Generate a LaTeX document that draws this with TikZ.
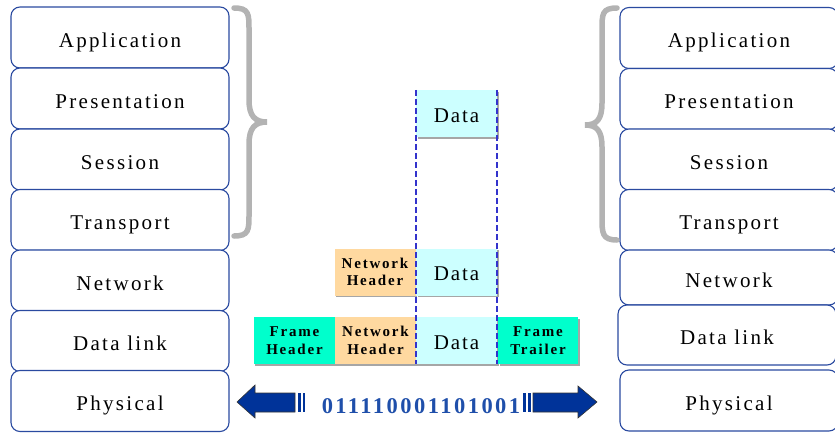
\documentclass[tikz,border=0pt]{standalone}
\usepackage{fontspec}
\usetikzlibrary{shadows}
\setmainfont{Liberation Serif}
\newfontfamily\layerfont[LetterSpace=11]{Liberation Serif}
\newfontfamily\datafont[LetterSpace=9]{Liberation Serif}
\newfontfamily\hdrfont[LetterSpace=12]{Liberation Serif}
\newfontfamily\bitfont[LetterSpace=11]{Liberation Serif}
\definecolor{layerline}{HTML}{2A4AA0}
\definecolor{datafill}{HTML}{CCFFFF}
\definecolor{netfill}{HTML}{FFD9A0}
\definecolor{framefill}{HTML}{00FFCC}
\definecolor{dashblue}{HTML}{3333CC}
\definecolor{bitblue}{HTML}{1F4FAA}
\definecolor{arrowblue}{HTML}{003399}
\definecolor{bracegray}{HTML}{B3B3B3}
\begin{document}
\begin{tikzpicture}[x=1pt,y=-1pt,
  layer/.style={draw=layerline,line width=1.1pt,rounded corners=9pt,fill=white,
    minimum width=218pt,minimum height=61pt,inner sep=0pt,
    text height=19pt,text depth=0pt,
    font=\layerfont\fontsize{21}{24}\selectfont},
  cell/.style={minimum width=81pt,minimum height=47pt,inner sep=0pt,
    drop shadow={shadow xshift=1.5pt,shadow yshift=-1.5pt,fill=black!35,opacity=1}},
  datacell/.style={cell,fill=datafill,text height=17pt,text depth=0pt,
    font=\datafont\fontsize{21}{24}\selectfont},
  netcell/.style={cell,fill=netfill,align=center,
    font=\hdrfont\bfseries\fontsize{15}{17.5}\selectfont},
  framecell/.style={netcell,fill=framefill},
  brace/.style={draw=bracegray,line width=5.5pt,line cap=round},
  seq/.style={draw=dashblue,line width=1.8pt,dash pattern=on 6pt off 3pt},
  blockarrow/.style={fill=arrowblue,draw=black!80,line width=0.6pt}]
\useasboundingbox (0,0) rectangle (835,434);

% sender stack
\node[layer] (lapp) at (120,37.5) {Application};
\node[layer] (lpre) at (120,98.5) {Presentation};
\node[layer] (lses) at (120,159.5) {Session};
\node[layer] (ltra) at (120,220) {Transport};
\node[layer] (lnet) at (120,280.5) {Network};
\node[layer] (ldl)  at (120,341) {Data link};
\node[layer] (lphy) at (120,401) {Physical};

% receiver stack
\node[layer] (rapp) at (729,38) {Application};
\node[layer] (rpre) at (729,99) {Presentation};
\node[layer] (rses) at (729,159.5) {Session};
\node[layer] (rtra) at (729,220) {Transport};
\node[layer,minimum height=55pt] (rnet) at (729,277.5) {Network};
\node[layer,minimum height=60pt] (rdl)  at (727,335) {Data link};
\node[layer] (rphy) at (729,400.5) {Physical};

% upper-layer braces
\draw[brace] (234,8) .. controls (249,8) and (249,14) .. (249,30)
  -- (249,100) .. controls (249,116) and (255,122) .. (267,122)
  .. controls (255,122) and (249,128) .. (249,144)
  -- (249,214) .. controls (249,230) and (249,236) .. (234,236);
\draw[brace] (617,8) .. controls (602,8) and (602,14) .. (602,30)
  -- (602,103) .. controls (602,119) and (597,125) .. (585,125)
  .. controls (597,125) and (602,131) .. (602,147)
  -- (602,217) .. controls (602,233) and (602,240) .. (617,240);

% encapsulated units
\node[datacell,minimum height=47pt] (dtop) at (456.5,113.5) {Data};
\node[netcell] (nh2) at (375,272) {Network\\Header};
\node[datacell] (d2) at (456.5,272) {Data};
\node[framecell,minimum width=82pt] (fh) at (294.5,340.5) {Frame\\Header};
\node[netcell] (nh3) at (375.5,340.5) {Network\\Header};
\node[datacell] (d3) at (456.5,340.5) {Data};
\node[framecell,minimum width=80pt] (ft) at (538,340.5) {Frame\\Trailer};

% data boundaries through the layers
\draw[seq] (dtop.north west) -- (d3.south west);
\draw[seq] (dtop.north east) -- (d3.south east);

% bit stream
\node[text=bitblue,font=\bitfont\bfseries\fontsize{22.5}{24}\selectfont] (bits) at (421,406.5) {011110001101001};
\coordinate (ltip) at (237,402);
\coordinate (rtip) at (597,402);
\draw[blockarrow] (ltip) -- (255,385) -- (255,393) -- (295,393) -- (295,412) -- (255,412) -- (255,418) -- cycle;
\fill[arrowblue] (298,393) rectangle (301,412);
\fill[arrowblue] (303,393) rectangle (305,412);
\draw[blockarrow] (rtip) -- (578,386) -- (578,393) -- (533,393) -- (533,412) -- (578,412) -- (578,418) -- cycle;
\fill[arrowblue] (523,393) rectangle (526,412);
\fill[arrowblue] (528,393) rectangle (531,412);
\end{tikzpicture}
\end{document}
